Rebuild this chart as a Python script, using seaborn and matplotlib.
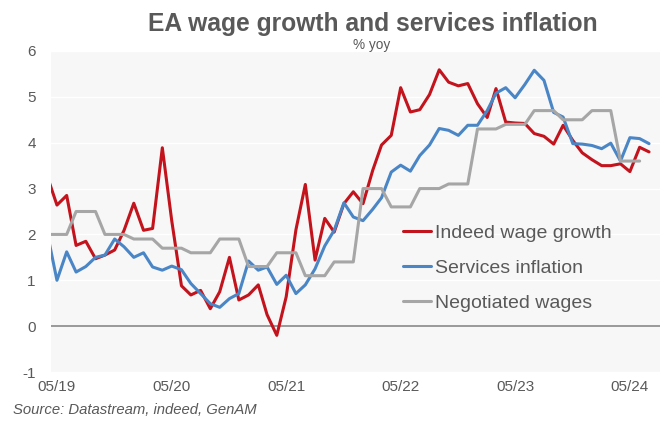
import pandas as pd
import matplotlib
matplotlib.use("Agg")
import matplotlib.pyplot as plt
import matplotlib.dates as mdates
import seaborn as sns

# Monthly observations, April 2019 to July 2024
months = pd.date_range("2019-04-01", "2024-07-01", freq="MS")

indeed_wage_growth = [
    3.25, 2.64, 2.85, 1.76, 1.85, 1.47, 1.55, 1.66, 2.09, 2.68, 2.09, 2.13,
    3.89, 2.30, 0.88, 0.68, 0.78, 0.38, 0.75, 1.50, 0.57, 0.68, 0.90, 0.25,
    -0.20, 0.64, 2.10, 3.09, 1.44, 2.35, 2.05, 2.67, 2.93, 2.67, 3.40, 3.95,
    4.16, 5.20, 4.67, 4.72, 5.05, 5.59, 5.32, 5.24, 5.29, 4.85, 4.55, 5.18,
    4.45, 4.43, 4.42, 4.20, 4.14, 3.97, 4.38, 4.05, 3.78, 3.63, 3.50, 3.50,
    3.54, 3.37, 3.90, 3.80,
]

services_inflation = [
    2.00, 1.00, 1.62, 1.18, 1.30, 1.50, 1.55, 1.90, 1.73, 1.50, 1.60, 1.29,
    1.22, 1.31, 1.23, 0.93, 0.71, 0.49, 0.41, 0.60, 0.71, 1.42, 1.22, 1.29,
    0.91, 1.11, 0.71, 0.90, 1.25, 1.75, 2.09, 2.69, 2.38, 2.30, 2.55, 2.80,
    3.36, 3.51, 3.38, 3.72, 3.95, 4.31, 4.27, 4.16, 4.38, 4.38, 4.70, 5.08,
    5.20, 4.98, 5.27, 5.58, 5.36, 4.66, 4.56, 3.98, 3.97, 3.94, 3.87, 3.99,
    3.60, 4.11, 4.09, 3.98,
]

negotiated_wages = [
    2.0, 2.0, 2.0, 2.5, 2.5, 2.5, 2.0, 2.0, 2.0, 1.9, 1.9, 1.9,
    1.7, 1.7, 1.7, 1.6, 1.6, 1.6, 1.9, 1.9, 1.9, 1.3, 1.3, 1.3,
    1.6, 1.6, 1.6, 1.1, 1.1, 1.1, 1.4, 1.4, 1.4, 3.0, 3.0, 3.0,
    2.6, 2.6, 2.6, 3.0, 3.0, 3.0, 3.1, 3.1, 3.1, 4.3, 4.3, 4.3,
    4.4, 4.4, 4.4, 4.7, 4.7, 4.7, 4.5, 4.5, 4.5, 4.7, 4.7, 4.7,
    3.6, 3.6, 3.6,
]

series_names = ["Indeed wage growth", "Services inflation", "Negotiated wages"]
series_colors = ["#c3131c", "#4a86c6", "#a6a6a6"]
tick_dates = pd.to_datetime(["2019-05-01", "2020-05-01", "2021-05-01",
                             "2022-05-01", "2023-05-01", "2024-05-01"])
y_ticks = [-1, 0, 1, 2, 3, 4, 5, 6]

frames = []
for name, values in zip(series_names,
                        [indeed_wage_growth, services_inflation, negotiated_wages]):
    frames.append(pd.DataFrame({"date": months[:len(values)],
                                "value": values, "series": name}))
df = pd.concat(frames, ignore_index=True)

sns.set_theme(style="white")
plt.rcParams["font.family"] = ["Liberation Sans", "DejaVu Sans"]
plt.rcParams["axes.unicode_minus"] = False

text_grey = "#595959"
W, H = 660, 421
fig = plt.figure(figsize=(W / 100, H / 100), dpi=100)
ax = fig.add_axes([51 / W, (H - 372) / H, 609 / W, 321 / H])
ax.set_facecolor("#f7f7f7")

for y in y_ticks:
    if y != 0:
        ax.axhline(y, color="white", lw=1.0, zorder=0)
ax.axhline(0, color="#808080", lw=1.1, zorder=1)

sns.lineplot(data=df, x="date", y="value", hue="series",
             hue_order=series_names, palette=series_colors,
             estimator=None, linewidth=2.2, ax=ax, legend=True)

handles, labels = ax.get_legend_handles_labels()
leg = ax.legend(handles, labels, loc="upper left",
                bbox_to_anchor=(402.7 / W, 1 - 224 / H),
                bbox_transform=fig.transFigure,
                frameon=False, fontsize=14, borderpad=0, borderaxespad=0,
                handlelength=1.45, handletextpad=0.2, labelspacing=0.9,
                labelcolor=text_grey)
for h in leg.legend_handles:
    h.set_linewidth(2.2)

ax.set_xlim(pd.Timestamp("2019-04-12"), pd.Timestamp("2024-08-05"))
ax.set_ylim(-1, 6)
ax.set_xticks(tick_dates)
ax.xaxis.set_major_formatter(mdates.DateFormatter("%m/%y"))
ax.set_yticks(y_ticks)
ax.tick_params(axis="both", length=0, labelsize=11, colors=text_grey)
ax.tick_params(axis="x", pad=6)
ax.tick_params(axis="y", pad=11)
ax.set_xlabel("")
ax.set_ylabel("")
for s in ax.spines.values():
    s.set_visible(False)

fig.text(372.5 / W, 1 - 31.5 / H, "EA wage growth and services inflation",
         ha="center", va="baseline", fontsize=17.7, fontweight="bold",
         color=text_grey)
fig.text(371.5 / W, 1 - 49 / H, "% yoy", ha="center", va="baseline",
         fontsize=9.8, color=text_grey)
fig.text(13 / W, 1 - 410 / H, "Source: Datastream, indeed, GenAM",
         ha="left", va="center", fontsize=10.75, style="italic", color=text_grey)

fig.savefig("out.png", dpi=100)
